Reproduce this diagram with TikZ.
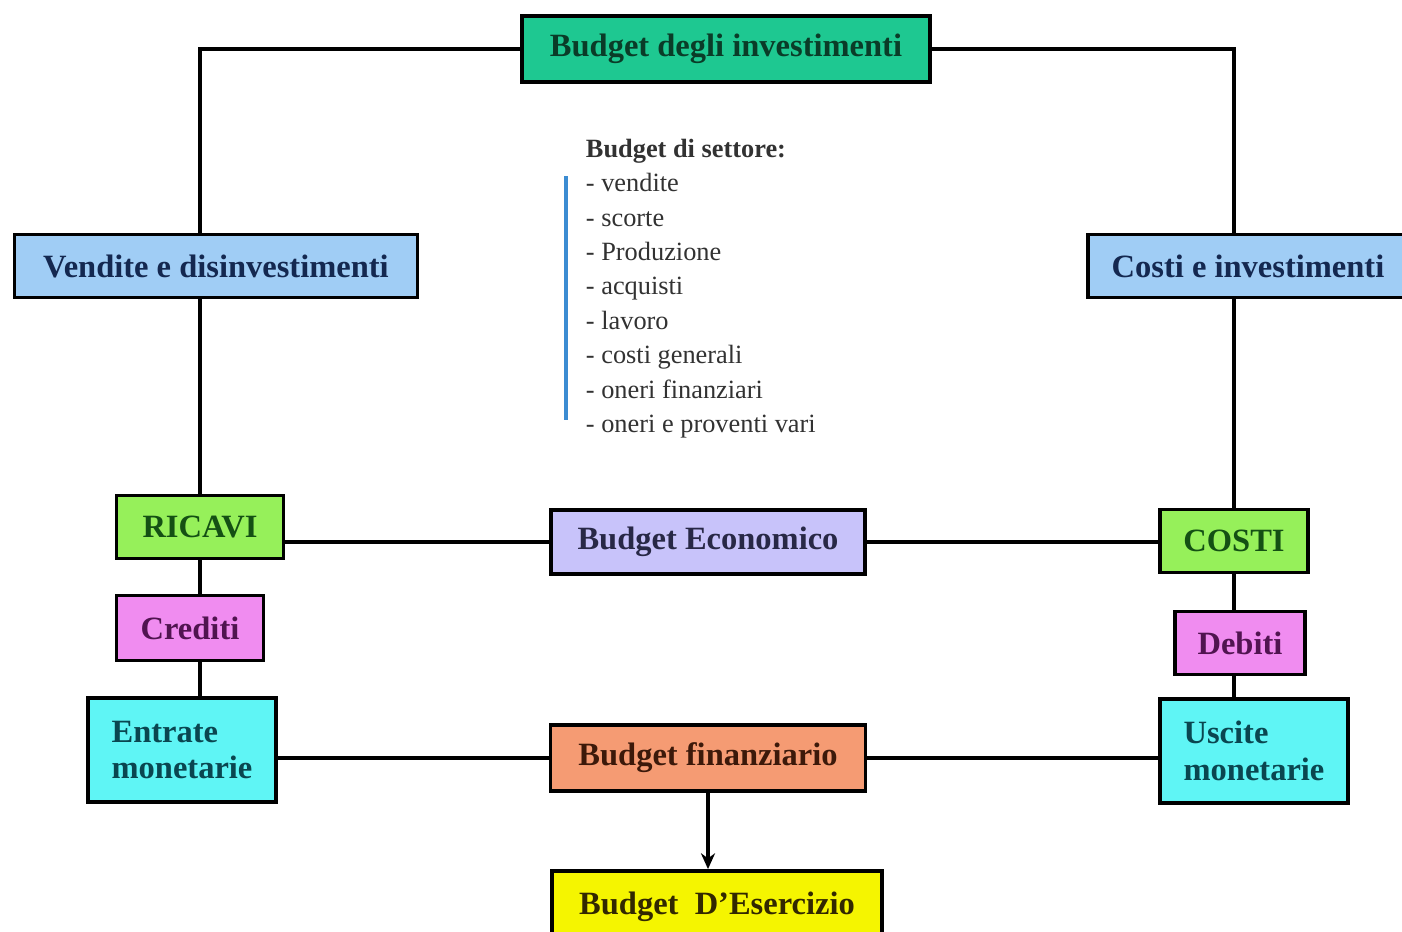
\documentclass[tikz,border=0pt]{standalone}
\usepackage{fontspec}
\setmainfont{Liberation Serif}
\usepackage{tikz}
\usetikzlibrary{arrows.meta}

\definecolor{invfill}{RGB}{30,200,145}
\definecolor{bluefill}{RGB}{160,205,245}
\definecolor{greenfill}{RGB}{150,240,90}
\definecolor{lilafill}{RGB}{200,195,250}
\definecolor{pinkfill}{RGB}{240,140,240}
\definecolor{cyanfill}{RGB}{95,245,245}
\definecolor{orangefill}{RGB}{245,155,115}
\definecolor{yellowfill}{RGB}{245,245,0}
\definecolor{barblue}{RGB}{60,140,210}

\begin{document}
\begin{tikzpicture}
    [x=0.02cm,y=-0.02cm,
    every node/.style={rectangle,draw,line width=2.2pt,inner sep=2pt,
      font=\bfseries\fontsize{18.5}{21}\selectfont},
    link/.style={line width=1.9pt}]
      \useasboundingbox (0,0) rectangle (1402,931);
      % top and the two columns
      \node[fill=invfill,text={rgb,255:red,10;green,60;blue,40},minimum width=8.16cm,minimum height=1.32cm] (inv) at (726,49) {Budget degli investimenti};
      \node[fill=bluefill,text={rgb,255:red,20;green,40;blue,80},minimum width=8.06cm,minimum height=1.26cm] (vend) at (216,266) {Vendite e disinvestimenti};
      \node[fill=bluefill,text={rgb,255:red,20;green,40;blue,80},minimum width=6.4cm,minimum height=1.26cm] (costinv) at (1248,266) {Costi e investimenti};
      \node[fill=greenfill,text={rgb,255:red,20;green,80;blue,20},minimum width=3.34cm,minimum height=1.26cm] (ricavi) at (200,527) {RICAVI};
      \node[fill=lilafill,text={rgb,255:red,40;green,40;blue,70},minimum width=6.28cm,minimum height=1.28cm] (econ) at (708,542) {Budget Economico};
      \node[fill=greenfill,text={rgb,255:red,20;green,80;blue,20},minimum width=2.96cm,minimum height=1.26cm] (costi) at (1234,541) {COSTI};
      \node[fill=pinkfill,text={rgb,255:red,80;green,20;blue,80},minimum width=2.94cm,minimum height=1.3cm] (crediti) at (190,628) {Crediti};
      \node[fill=pinkfill,text={rgb,255:red,80;green,20;blue,80},minimum width=2.6cm,minimum height=1.26cm] (debiti) at (1240,643) {Debiti};
      \node[fill=cyanfill,text={rgb,255:red,10;green,70;blue,80},align=left,minimum width=3.76cm,minimum height=2.08cm] (entrate) at (182,750) {Entrate\\monetarie};
      \node[fill=orangefill,text={rgb,255:red,60;green,25;blue,10},minimum width=6.3cm,minimum height=1.32cm] (finanz) at (708,758) {Budget finanziario};
      \node[fill=cyanfill,text={rgb,255:red,10;green,70;blue,80},align=left,minimum width=3.76cm,minimum height=2.08cm] (uscite) at (1254,751) {Uscite\\monetarie};
      \node[fill=yellowfill,text={rgb,255:red,50;green,40;blue,0},minimum width=6.6cm,minimum height=1.44cm] (eserc) at (717,907) {Budget~~D’Esercizio};
      % budget di settore
      \node[draw=none,anchor=north west,inner sep=0pt,align=left,text={rgb,255:red,50;green,50;blue,50},
        font=\fontsize{15}{19.6}\selectfont] (settore) at (584,137)
        {\textbf{Budget di settore:}\\- vendite\\- scorte\\- Produzione\\- acquisti\\- lavoro\\- costi generali\\- oneri finanziari\\- oneri e proventi vari};
      \draw[barblue,line width=2.2pt] (566,176) -- (566,420);
      % connectors
      \draw[link] (inv.west) -| (vend.north -| ricavi.north);
      \draw[link] (inv.east) -| (costinv.north -| costi.north);
      \draw[link] (vend.south -| ricavi.north) -- (ricavi.north);
      \draw[link] (costinv.south -| costi.north) -- (costi.north);
      \draw[link] (ricavi.east |- econ.west) -- (econ.west);
      \draw[link] (econ.east) -- (costi.west |- econ.east);
      \draw[link] (ricavi.south) -- (crediti.north -| ricavi.south);
      \draw[link] (crediti.south -| ricavi.south) -- (entrate.north -| ricavi.south);
      \draw[link] (costi.south) -- (debiti.north -| costi.south);
      \draw[link] (debiti.south -| costi.south) -- (uscite.north -| costi.south);
      \draw[link] (entrate.east |- finanz.west) -- (finanz.west);
      \draw[link] (finanz.east) -- (uscite.west |- finanz.east);
      \draw[link,-{Stealth[length=9pt,width=8pt]}] (finanz.south) -- (finanz.south |- eserc.north);
\end{tikzpicture}
\end{document}
